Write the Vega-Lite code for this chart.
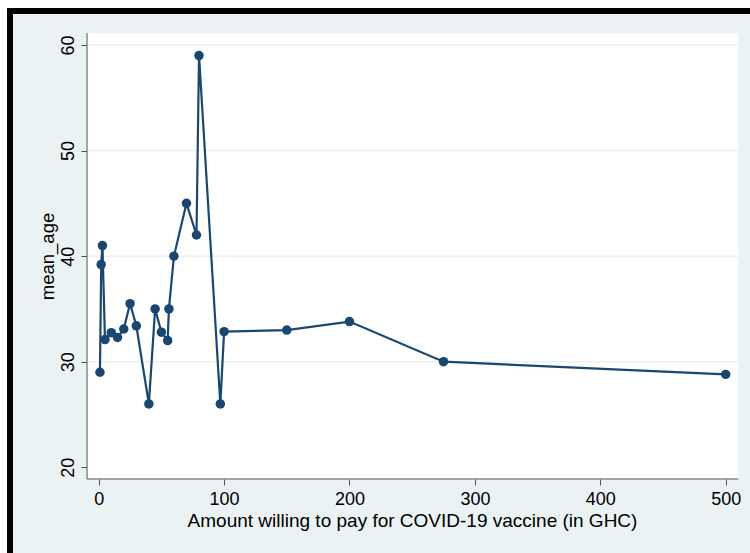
{
  "$schema": "https://vega.github.io/schema/vega-lite/v6.json",
  "width": 740,
  "height": 542,
  "padding": {"left": 10, "top": 11, "right": 0, "bottom": 0},
  "autosize": {"type": "none"},
  "background": "white",
  "view": {"fill": "#eaf2f3", "stroke": "black", "strokeWidth": 6, "strokeDash": [740, 1282, 542]},
  "config": {
    "font": "Liberation Sans",
    "axisX": {
      "offset": -74,
      "domain": false,
      "grid": false,
      "tickSize": 6,
      "tickColor": "#555555",
      "labelFontSize": 18,
      "labelColor": "black",
      "labelPadding": 5,
      "labelFlush": false,
      "labelOverlap": false,
      "titleFontSize": 19,
      "titleFontWeight": "normal",
      "titleColor": "black",
      "titlePadding": 3,
      "titleX": 402,
      "zindex": 1
    },
    "axisY": {
      "offset": -77,
      "domain": false,
      "grid": false,
      "tickSize": 6,
      "tickColor": "#555555",
      "labelFontSize": 18,
      "labelColor": "black",
      "labelAngle": 270,
      "labelAlign": "center",
      "labelBaseline": "alphabetic",
      "labelPadding": 8,
      "labelFlush": false,
      "labelOverlap": false,
      "titleFontSize": 18.5,
      "titleFontWeight": "normal",
      "titleColor": "black",
      "titlePadding": 2,
      "titleY": 245,
      "zindex": 1
    }
  },
  "datasets": {
    "ages": [
      {"amount": 1, "mean_age": 29.0},
      {"amount": 2, "mean_age": 39.2},
      {"amount": 3, "mean_age": 41.0},
      {"amount": 5, "mean_age": 32.1},
      {"amount": 10, "mean_age": 32.75},
      {"amount": 15, "mean_age": 32.3},
      {"amount": 20, "mean_age": 33.1},
      {"amount": 25, "mean_age": 35.5},
      {"amount": 30, "mean_age": 33.4},
      {"amount": 40, "mean_age": 26.0},
      {"amount": 45, "mean_age": 35.0},
      {"amount": 50, "mean_age": 32.8},
      {"amount": 55, "mean_age": 32.0},
      {"amount": 56, "mean_age": 35.0},
      {"amount": 60, "mean_age": 40.0},
      {"amount": 70, "mean_age": 45.0},
      {"amount": 78, "mean_age": 42.0},
      {"amount": 80, "mean_age": 59.0},
      {"amount": 97, "mean_age": 26.0},
      {"amount": 100, "mean_age": 32.85},
      {"amount": 150, "mean_age": 33.0},
      {"amount": 200, "mean_age": 33.8},
      {"amount": 275, "mean_age": 30.0},
      {"amount": 500, "mean_age": 28.8}
    ],
    "gridlines": [
      {"level": 30},
      {"level": 40},
      {"level": 50},
      {"level": 60}
    ]
  },
  "layer": [
    {
      "data": {"values": [{}]},
      "mark": {"type": "rect", "fill": "white"},
      "encoding": {
        "x": {"datum": -9.3, "type": "quantitative", "scale": {"domain": [-70.73, 519.38], "nice": false, "zero": false}, "title": "Amount willing to pay for COVID-19 vaccine (in GHC)", "axis": {"values": [0, 100, 200, 300, 400, 500]}},
        "x2": {"datum": 510},
        "y": {"datum": 18.89, "type": "quantitative", "scale": {"domain": [11.88, 63.22], "nice": false, "zero": false}, "title": "mean_age", "axis": {"values": [20, 30, 40, 50, 60]}},
        "y2": {"datum": 61.14}
      }
    },
    {
      "data": {"name": "gridlines"},
      "mark": {"type": "rule", "stroke": "#eaf2f3", "strokeWidth": 1.5},
      "encoding": {
        "y": {"field": "level", "type": "quantitative", "scale": {"domain": [11.88, 63.22], "nice": false, "zero": false}, "title": "mean_age", "axis": {"values": [20, 30, 40, 50, 60]}},
        "x": {"datum": -9.3, "type": "quantitative", "scale": {"domain": [-70.73, 519.38], "nice": false, "zero": false}, "title": "Amount willing to pay for COVID-19 vaccine (in GHC)", "axis": {"values": [0, 100, 200, 300, 400, 500]}},
        "x2": {"datum": 510}
      }
    },
    {
      "data": {"values": [{}]},
      "mark": {"type": "rule", "stroke": "#555555", "strokeWidth": 1},
      "encoding": {
        "x": {"datum": -9.3, "type": "quantitative", "scale": {"domain": [-70.73, 519.38], "nice": false, "zero": false}, "title": "Amount willing to pay for COVID-19 vaccine (in GHC)", "axis": {"values": [0, 100, 200, 300, 400, 500]}},
        "y": {"datum": 18.89, "type": "quantitative", "scale": {"domain": [11.88, 63.22], "nice": false, "zero": false}, "title": "mean_age", "axis": {"values": [20, 30, 40, 50, 60]}},
        "y2": {"datum": 61.14}
      }
    },
    {
      "data": {"values": [{}]},
      "mark": {"type": "rule", "stroke": "#555555", "strokeWidth": 1},
      "encoding": {
        "y": {"datum": 18.89, "type": "quantitative", "scale": {"domain": [11.88, 63.22], "nice": false, "zero": false}, "title": "mean_age", "axis": {"values": [20, 30, 40, 50, 60]}},
        "x": {"datum": -9.3, "type": "quantitative", "scale": {"domain": [-70.73, 519.38], "nice": false, "zero": false}, "title": "Amount willing to pay for COVID-19 vaccine (in GHC)", "axis": {"values": [0, 100, 200, 300, 400, 500]}},
        "x2": {"datum": 510}
      }
    },
    {
      "data": {"name": "ages"},
      "mark": {
        "type": "line",
        "color": "#1a476f",
        "strokeWidth": 2.2,
        "point": {"filled": true, "size": 90, "color": "#1a476f", "opacity": 1}
      },
      "encoding": {
        "x": {
          "field": "amount",
          "type": "quantitative",
          "scale": {"domain": [-70.73, 519.38], "nice": false, "zero": false},
          "title": "Amount willing to pay for COVID-19 vaccine (in GHC)",
          "axis": {"values": [0, 100, 200, 300, 400, 500]}
        },
        "y": {
          "field": "mean_age",
          "type": "quantitative",
          "scale": {"domain": [11.88, 63.22], "nice": false, "zero": false},
          "title": "mean_age",
          "axis": {"values": [20, 30, 40, 50, 60]}
        }
      }
    }
  ]
}
